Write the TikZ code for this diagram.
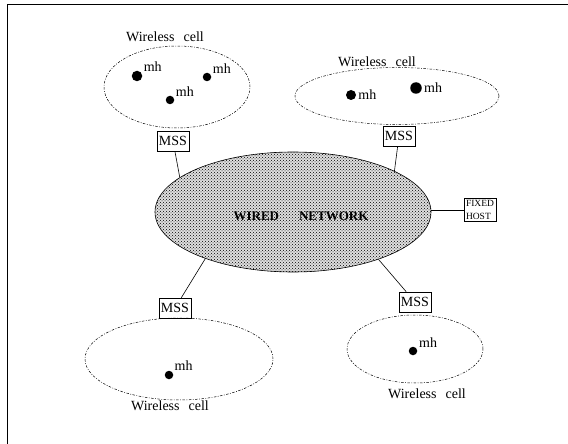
\documentclass[tikz,border=0pt]{standalone}
\usepackage{fontspec}
\setmainfont{Liberation Serif}
\usetikzlibrary{shapes.geometric,positioning,patterns}

\begin{document}
\begin{tikzpicture}[x=1pt,y=-1pt,font=\fontsize{14}{16}\selectfont]

    \tikzset{cell/.style={draw,ellipse,line width=0.5pt,dash pattern=on 2.5pt off 1.5pt on 0.8pt off 1.5pt,inner sep=0pt}}
    \tikzset{mss/.style={draw,rectangle,line width=0.6pt,inner sep=2pt,minimum width=30pt,minimum height=20pt}}
    \tikzset{mhost/.style={circle,fill=black,inner sep=0pt,minimum size=#1},mhost/.default=8.5pt}
    \tikzset{mhlab/.style={label distance=1pt,inner sep=1pt}}
    \useasboundingbox (0,0) rectangle (568,444);
    \draw[line width=0.8pt] (7,444) -- (7,4) -- (568,4);

    \node[draw,ellipse,line width=0.6pt,preaction={fill=gray!25},pattern=crosshatch dots,minimum width=276pt,minimum height=120pt] (wired) at (293,212) {};
    \node[font=\fontsize{13}{15}\selectfont\bfseries] (wiredtxt) at (301,216) {WIRED\hspace{20pt}NETWORK};

    \node[cell,minimum width=146pt,minimum height=82pt] (cellA) at (177,87) {};
    \node[cell,minimum width=204pt,minimum height=57pt] (cellB) at (397,96) {};
    \node[cell,minimum width=188pt,minimum height=82pt] (cellC) at (179,359) {};
    \node[cell,minimum width=136pt,minimum height=68pt] (cellD) at (415,349) {};

    \node (wcA) at (165,37) {Wireless\hspace{9pt}cell};
    \node (wcB) at (377,62) {Wireless\hspace{9pt}cell};
    \node (wcC) at (170,406) {Wireless\hspace{9pt}cell};
    \node (wcD) at (427,394) {Wireless\hspace{9pt}cell};

    \node[mhost=10.5pt,label={[mhlab]30:mh}] (mhA1) at (137,76) {};
    \node[mhost,label={[mhlab]30:mh}] (mhA2) at (207,77) {};
    \node[mhost,label={[mhlab]30:mh}] (mhA3) at (170,100) {};
    \node[mhost=10pt,label={[mhlab]0:mh}] (mhB1) at (351,95) {};
    \node[mhost=11.5pt,label={[mhlab]0:mh}] (mhB2) at (416,88) {};
    \node[mhost,label={[mhlab]35:mh}] (mhC1) at (169,375) {};
    \node[mhost,label={[mhlab]25:mh}] (mhD1) at (413,351) {};

    \node[mss] (mssA) at (173,141) {MSS};
    \node[mss] (mssB) at (399,136) {MSS};
    \node[mss] (mssC) at (175,308) {MSS};
    \node[mss] (mssD) at (415,302) {MSS};
    \node[draw,rectangle,line width=0.6pt,inner sep=2pt,align=left,font=\fontsize{9.5}{13}\selectfont] (fixed) at (480,210) {FIXED\\HOST};

    \path[draw,line width=0.6pt]
    (mssA) edge (wired.163)
    (mssB) edge (wired.22)
    (mssC) edge (wired.208)
    (mssD) edge (wired.331)
    (wired.east |- fixed) edge (fixed)
    ;
  \end{tikzpicture}
\end{document}
